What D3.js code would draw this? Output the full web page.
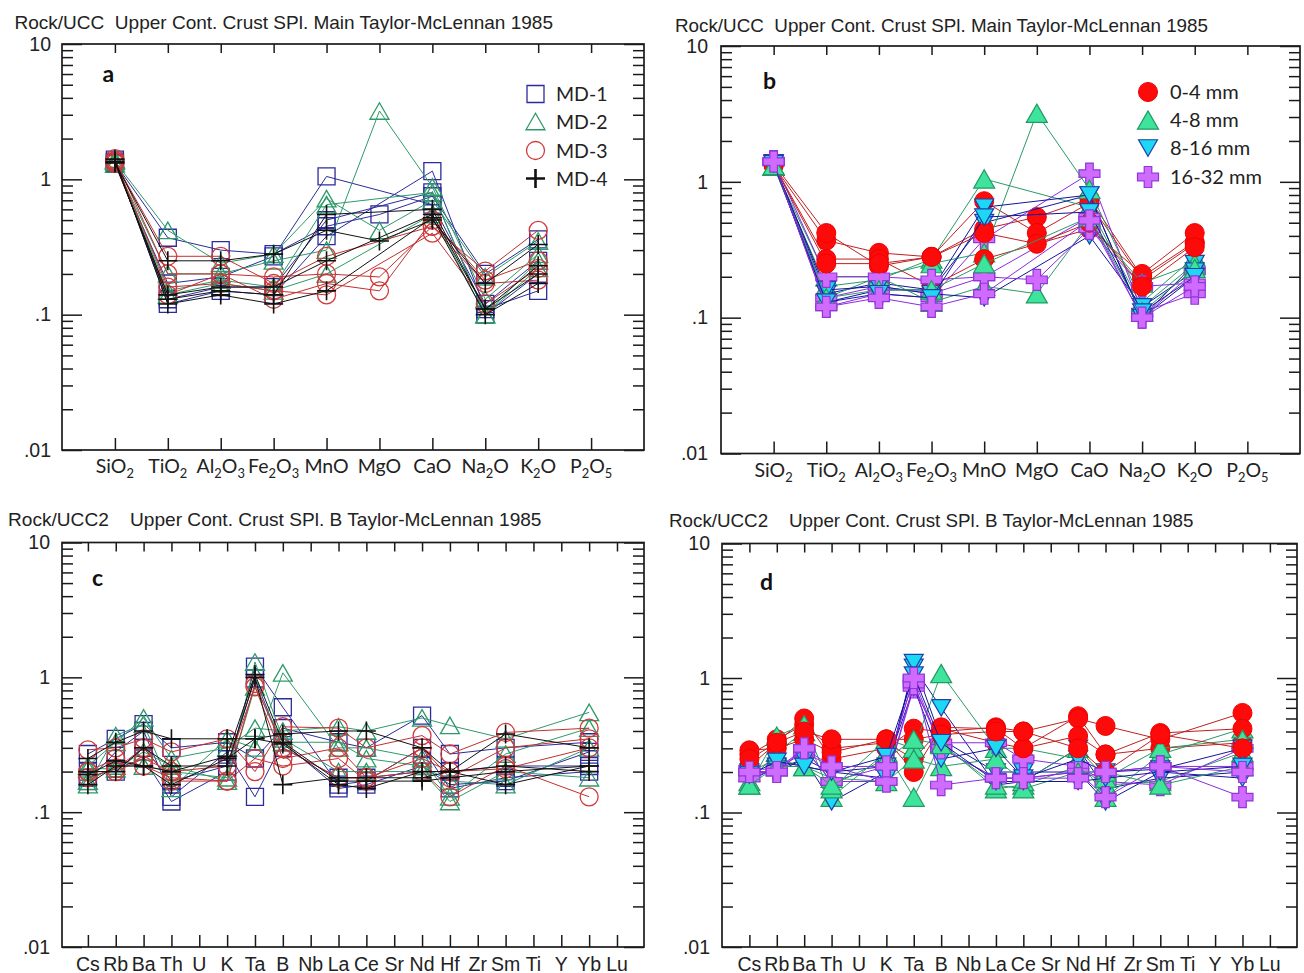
<!DOCTYPE html>
<html>
<head>
<meta charset="utf-8">
<title>Rock/UCC spider diagrams</title>
<script src="https://cdn.jsdelivr.net/npm/d3@7"></script>
<style>
  body { margin: 0; background: #fff; }
  svg { display: block; }
</style>
</head>
<body>
<svg id="chart" width="1304" height="973"></svg>
<script>
// ---------------- data ----------------
const majorCats = ['SiO2', 'TiO2', 'Al2O3', 'Fe2O3', 'MnO', 'MgO', 'CaO', 'Na2O', 'K2O', 'P2O5'];
const traceCats = ['Cs', 'Rb', 'Ba', 'Th', 'U', 'K', 'Ta', 'B', 'Nb', 'La', 'Ce', 'Sr', 'Nd', 'Hf', 'Zr', 'Sm', 'Ti', 'Y', 'Yb', 'Lu'];
const mdGroups = ['MD-1', 'MD-2', 'MD-3', 'MD-4'];
const sizeGroups = ['0-4 mm', '4-8 mm', '8-16 mm', '16-32 mm'];
const yTickValues = [10, 1, 0.1, 0.01];
const yTickLabels = ['10', '1', '.1', '.01'];

// rows = size fraction (0-4, 4-8, 8-16, 16-32 mm), columns follow majorCats, null = not plotted
const md1Major = [
  [1.32, 0.37, 0.30, 0.28, 0.45, 0.55, 0.75, 0.20, 0.36, null],
  [1.30, 0.17, 0.19, 0.27, 1.05, null, 0.65, 0.12, 0.25, null],
  [1.35, 0.13, 0.16, 0.16, 0.50, null, 0.80, 0.10, 0.20, null],
  [1.40, 0.12, 0.15, 0.14, 0.38, null, 1.15, 0.11, 0.15, null]
];
const md2Major = [
  [1.36, 0.42, 0.24, 0.28, 0.72, 0.42, 0.70, 0.19, 0.35, null],
  [1.30, 0.20, 0.20, 0.25, 0.30, 3.20, 0.88, 0.13, 0.28, null],
  [1.38, 0.15, 0.18, 0.16, 0.65, null, 0.80, 0.10, 0.25, null],
  [1.40, 0.14, 0.17, 0.15, 0.20, null, 0.55, 0.10, 0.22, null]
];
const md3Major = [
  [1.34, 0.27, 0.27, 0.17, 0.27, null, 0.45, 0.21, 0.42, null],
  [1.31, 0.14, 0.20, 0.13, 0.17, 0.15, 0.50, 0.18, 0.25, null],
  [1.37, 0.16, 0.17, 0.15, 0.14, null, 0.40, 0.12, 0.22, null],
  [1.42, 0.20, 0.20, 0.19, 0.20, 0.19, 0.45, 0.17, 0.18, null]
];
const md4Major = [
  [1.33, 0.25, 0.25, 0.28, 0.42, 0.35, 0.50, 0.17, 0.33, null],
  [1.32, 0.14, 0.16, 0.16, 0.25, null, 0.55, 0.11, 0.23, null],
  [1.36, 0.13, 0.15, 0.14, 0.55, null, 0.60, 0.11, 0.20, null],
  [1.41, 0.12, 0.14, 0.12, 0.15, null, 0.52, 0.10, 0.17, null]
];

// rows = size fraction, columns follow traceCats
const md1Trace = [
  [0.27, 0.35, 0.45, 0.30, null, 0.33, 0.25, 0.42, null, 0.33, 0.30, null, 0.52, 0.27, null, 0.30, null, null, 0.33, null],
  [0.17, 0.28, 0.40, 0.13, null, 0.28, 0.13, 0.33, null, 0.15, 0.16, null, 0.22, 0.16, null, 0.17, null, null, 0.28, null],
  [0.18, 0.21, 0.25, 0.12, null, 0.20, 1.20, 0.60, null, 0.16, 0.17, null, 0.30, 0.15, null, 0.18, null, null, 0.20, null],
  [0.20, 0.20, 0.30, 0.17, null, 0.22, 0.98, 0.30, null, 0.18, 0.18, null, 0.20, 0.20, null, 0.22, null, null, 0.22, null]
];
const md2Trace = [
  [0.22, 0.33, 0.50, 0.25, null, 0.30, 0.42, 0.40, null, 0.43, 0.40, null, 0.50, 0.44, null, 0.35, null, null, 0.55, null],
  [0.16, 0.37, 0.45, 0.15, null, 0.35, 0.30, 1.08, null, 0.30, 0.30, null, 0.25, 0.13, null, 0.27, null, null, 0.42, null],
  [0.17, 0.22, 0.22, 0.20, null, 0.18, 1.30, 0.35, null, 0.20, 0.20, null, 0.20, 0.12, null, 0.20, null, null, 0.18, null],
  [0.21, 0.21, 0.28, 0.22, null, 0.17, 0.85, 0.33, null, 0.33, 0.25, null, 0.22, 0.17, null, 0.16, null, null, 0.30, null]
];
const md3Trace = [
  [0.29, 0.30, 0.35, 0.28, null, 0.35, 0.20, 0.43, null, 0.42, 0.30, null, 0.37, 0.27, null, 0.39, null, null, 0.42, null],
  [0.20, 0.25, 0.22, 0.18, null, 0.17, 0.25, 0.22, null, 0.25, 0.17, null, 0.30, 0.18, null, 0.30, null, null, 0.35, null],
  [0.20, 0.20, 0.25, 0.20, null, 0.22, 0.85, 0.25, null, 0.30, 0.18, null, 0.25, 0.20, null, 0.21, null, null, 0.30, null],
  [0.18, 0.21, 0.30, 0.17, null, 0.17, 0.90, 0.30, null, 0.18, 0.18, null, 0.20, 0.13, null, 0.22, null, null, 0.13, null]
];
const md4Trace = [
  [0.25, 0.33, 0.40, 0.35, null, 0.35, 0.35, 0.38, null, 0.40, 0.40, null, 0.30, 0.20, null, 0.38, null, null, 0.30, null],
  [0.16, 0.22, 0.22, 0.16, null, 0.25, 0.35, 0.32, null, 0.16, 0.15, null, 0.20, 0.20, null, 0.16, null, null, 0.22, null],
  [0.19, 0.24, 0.22, 0.20, null, 0.26, 1.05, 0.33, null, 0.17, 0.17, null, 0.17, 0.18, null, 0.20, null, null, 0.22, null],
  [0.20, 0.20, 0.30, 0.22, null, 0.22, 1.00, 0.16, null, 0.18, 0.18, null, 0.18, 0.20, null, 0.22, null, null, 0.20, null]
];

const majorByMd = [md1Major, md2Major, md3Major, md4Major];
const traceByMd = [md1Trace, md2Trace, md3Trace, md4Trace];

// ---------------- styles ----------------
const mdStyles = [
  { shape: 'square', w: 17, stroke: '#2b2b9c', fill: 'none', line: '#2b2b9c', sw: 1.3 },
  { shape: 'triUp', w: 19, stroke: '#2e9a6a', fill: 'none', line: '#2e9a6a', sw: 1.3 },
  { shape: 'circle', w: 18, stroke: '#d23a3a', fill: 'none', line: '#c23030', sw: 1.3 },
  { shape: 'plus', w: 19, stroke: '#111', fill: 'none', line: '#111', sw: 1.6 }
];
const sizeStyles = [
  { shape: 'circle', w: 19, stroke: '#f00000', fill: '#ff0a0a', line: '#c02020', sw: 1 },
  { shape: 'triUp', w: 21, stroke: '#229a63', fill: '#3ee49c', line: '#2a9a68', sw: 1.2 },
  { shape: 'triDown', w: 19, stroke: '#2040a8', fill: '#1cd8f4', line: '#14149c', sw: 1.2 },
  { shape: 'cross', w: 21, stroke: '#9236d8', fill: '#cf6cff', line: '#8a2be2', sw: 1.2 }
];

const shapes = {
  square: { draw(c, s) { const h = Math.sqrt(s) / 2; c.rect(-h, -h, 2 * h, 2 * h); } },
  circle: { draw(c, s) { const r = Math.sqrt(s) / 2; c.moveTo(r, 0); c.arc(0, 0, r, 0, 2 * Math.PI); } },
  triUp: { draw(c, s) { const w = Math.sqrt(s), h = w * 0.87; c.moveTo(0, -h / 2); c.lineTo(w / 2, h / 2); c.lineTo(-w / 2, h / 2); c.closePath(); } },
  triDown: { draw(c, s) { const w = Math.sqrt(s), h = w * 0.87; c.moveTo(0, h / 2); c.lineTo(w / 2, -h / 2); c.lineTo(-w / 2, -h / 2); c.closePath(); } },
  plus: { draw(c, s) { const r = Math.sqrt(s) / 2; c.moveTo(-r, 0); c.lineTo(r, 0); c.moveTo(0, -r); c.lineTo(0, r); } },
  cross: { draw(c, s) {
    const r = Math.sqrt(s) / 2, t = r * 0.36;
    c.moveTo(-r, -t); c.lineTo(-t, -t); c.lineTo(-t, -r); c.lineTo(t, -r); c.lineTo(t, -t); c.lineTo(r, -t);
    c.lineTo(r, t); c.lineTo(t, t); c.lineTo(t, r); c.lineTo(-t, r); c.lineTo(-t, t); c.lineTo(-r, t); c.closePath();
  } }
};

const NARROW = "'Liberation Sans Narrow', 'Arial Narrow', 'Liberation Sans', Arial, sans-serif";
const ARIAL = "'Liberation Sans', Arial, sans-serif";
const CALIBRI = "Lato, 'Open Sans', sans-serif";

// ---------------- layout ----------------
const panels = [
  { letter: 'a', cats: majorCats, set: 'major', by: 'md',
    x0: 62, x1: 644, y0: 44, y1: 450, lo: -1, hi: 10, yPad: 11,
    title: 'Rock/UCC  Upper Cont. Crust SPl. Main Taylor-McLennan 1985', titleX: [14.5, 553], titleY: 29,
    letterPos: [102.5, 82], xLabelY: 473, xFont: CALIBRI, xSize: 19.5,
    legend: { x: 535.5, text: 556, ys: [94, 121.5, 150.5, 178.5], size: 19.5 } },
  { letter: 'b', cats: majorCats, set: 'major', by: 'size',
    x0: 721, x1: 1300, y0: 46, y1: 453.5, lo: -1, hi: 10, yPad: 13,
    title: 'Rock/UCC  Upper Cont. Crust SPl. Main Taylor-McLennan 1985', titleX: [675, 1208], titleY: 32,
    letterPos: [763, 89], xLabelY: 477, xFont: CALIBRI, xSize: 19.5,
    legend: { x: 1148, text: 1170, ys: [92, 120, 148, 177], size: 20 } },
  { letter: 'c', cats: traceCats, set: 'trace', by: 'md',
    x0: 62, x1: 644, y0: 542.5, y1: 947, lo: -0.93, hi: 19.97, yPad: 12,
    title: 'Rock/UCC2    Upper Cont. Crust SPl. B Taylor-McLennan 1985', titleX: [8, 541.5], titleY: 526,
    letterPos: [92, 586], xLabelY: 970.5, xFont: NARROW, xSize: 19.5 },
  { letter: 'd', cats: traceCats, set: 'trace', by: 'size',
    x0: 722, x1: 1297, y0: 543.5, y1: 947, lo: -1, hi: 19.99, yPad: 12,
    title: 'Rock/UCC2    Upper Cont. Crust SPl. B Taylor-McLennan 1985', titleX: [669, 1193.5], titleY: 527,
    letterPos: [760, 590], xLabelY: 970.5, xFont: NARROW, xSize: 19.5 }
];

const svg = d3.select('#chart');

const minorTicks = [];
[0.01, 0.1, 1].forEach(base => { for (let m = 2; m < 10; m++) minorTicks.push(+(m * base).toPrecision(3)); });

function styleAxis(g) {
  g.select('.domain').remove();
  g.selectAll('.tick line').attr('stroke', '#1a1a1a').attr('stroke-width', 1.5);
}

// chemical formula label: digits become subscripts
function chemLabel(t, name, subSize) {
  const parts = name.match(/[A-Za-z]+|\d+/g);
  let low = false;
  parts.forEach(s => {
    const isSub = /^\d+$/.test(s);
    const ts = t.append('tspan').text(s);
    if (isSub) ts.attr('font-size', subSize).attr('dy', low ? 0 : 5);
    else if (low) ts.attr('dy', -5);
    low = isSub;
  });
}

function symbolPath(st) {
  return d3.symbol(shapes[st.shape], st.w * st.w)();
}

function drawPanel(p) {
  const x = d3.scaleLinear().domain([p.lo, p.hi]).range([p.x0, p.x1]);
  const y = d3.scaleLog().domain([0.01, 10]).range([p.y1, p.y0]);
  const idx = d3.range(p.cats.length);
  const g = svg.append('g').attr('class', 'panel-' + p.letter);

  // title
  g.append('text').attr('x', p.titleX[0]).attr('y', p.titleY)
    .attr('font-family', ARIAL).attr('font-size', 19).attr('fill', '#222')
    .style('white-space', 'pre')
    .attr('textLength', p.titleX[1] - p.titleX[0]).attr('lengthAdjust', 'spacingAndGlyphs')
    .text(p.title);

  // axes: left / right with major + minor log ticks
  g.append('g').attr('transform', `translate(${p.x0},0)`)
    .call(d3.axisLeft(y).tickValues(minorTicks).tickSize(-11).tickFormat(''))
    .call(styleAxis);
  g.append('g').attr('transform', `translate(${p.x0},0)`)
    .call(d3.axisLeft(y).tickValues(yTickValues).tickSize(-20).tickPadding(p.yPad)
      .tickFormat(d => yTickLabels[yTickValues.indexOf(d)]))
    .call(styleAxis)
    .call(a => a.selectAll('text').attr('font-family', ARIAL).attr('font-size', 19.5).attr('fill', '#222'));
  g.append('g').attr('transform', `translate(${p.x1},0)`)
    .call(d3.axisRight(y).tickValues(minorTicks).tickSize(-11).tickFormat(''))
    .call(styleAxis);
  g.append('g').attr('transform', `translate(${p.x1},0)`)
    .call(d3.axisRight(y).tickValues(yTickValues).tickSize(-20).tickFormat(''))
    .call(styleAxis);

  // top / bottom category ticks
  g.append('g').attr('transform', `translate(0,${p.y0})`)
    .call(d3.axisTop(x).tickValues(idx).tickSize(-9).tickFormat(''))
    .call(styleAxis);
  g.append('g').attr('transform', `translate(0,${p.y1})`)
    .call(d3.axisBottom(x).tickValues(idx).tickSize(-12).tickFormat(''))
    .call(styleAxis);

  g.append('rect').attr('x', p.x0).attr('y', p.y0)
    .attr('width', p.x1 - p.x0).attr('height', p.y1 - p.y0)
    .attr('fill', 'none').attr('stroke', '#1a1a1a').attr('stroke-width', 1.7);

  // category labels
  g.append('g').selectAll('text').data(p.cats).join('text')
    .attr('x', (d, i) => x(i)).attr('y', p.xLabelY)
    .attr('text-anchor', 'middle')
    .attr('font-family', p.xFont).attr('font-size', p.xSize).attr('fill', '#222')
    .each(function (d) { chemLabel(d3.select(this), d, p.xSize * 0.66); });

  // panel letter
  g.append('text').attr('x', p.letterPos[0]).attr('y', p.letterPos[1])
    .attr('font-family', CALIBRI).attr('font-weight', 'bold').attr('font-size', 23).attr('fill', '#111')
    .text(p.letter);

  // series: one polyline per sample, markers on top of its own line
  const src = p.set === 'major' ? majorByMd : traceByMd;
  const styles = p.by === 'md' ? mdStyles : sizeStyles;
  const line = d3.line().x(d => x(d.i)).y(d => y(d.v));
  const plot = g.append('g');
  src.forEach((rows, m) => rows.forEach((vals, s) => {
    const st = styles[p.by === 'md' ? m : s];
    const pts = vals.map((v, i) => ({ i, v })).filter(d => d.v != null);
    const sg = plot.append('g');
    sg.append('path').datum(pts).attr('d', line)
      .attr('fill', 'none').attr('stroke', st.line).attr('stroke-width', 1);
    sg.selectAll('path.mk').data(pts).join('path').attr('class', 'mk')
      .attr('transform', d => `translate(${x(d.i)},${y(d.v)})`)
      .attr('d', symbolPath(st))
      .attr('fill', st.fill).attr('stroke', st.stroke).attr('stroke-width', st.sw);
  }));

  // legend
  if (p.legend) {
    const names = p.by === 'md' ? mdGroups : sizeGroups;
    const lg = g.append('g');
    names.forEach((name, k) => {
      const st = styles[k];
      const cy = p.legend.ys[k];
      lg.append('path').attr('transform', `translate(${p.legend.x},${cy})`)
        .attr('d', symbolPath(st))
        .attr('fill', st.fill).attr('stroke', st.stroke)
        .attr('stroke-width', st.shape === 'plus' ? 2.6 : st.sw);
      lg.append('text').attr('x', p.legend.text).attr('y', cy + 7)
        .attr('font-family', CALIBRI).attr('font-size', p.legend.size).attr('fill', '#222')
        .text(name);
    });
  }
}

panels.forEach(drawPanel);
</script>
</body>
</html>
